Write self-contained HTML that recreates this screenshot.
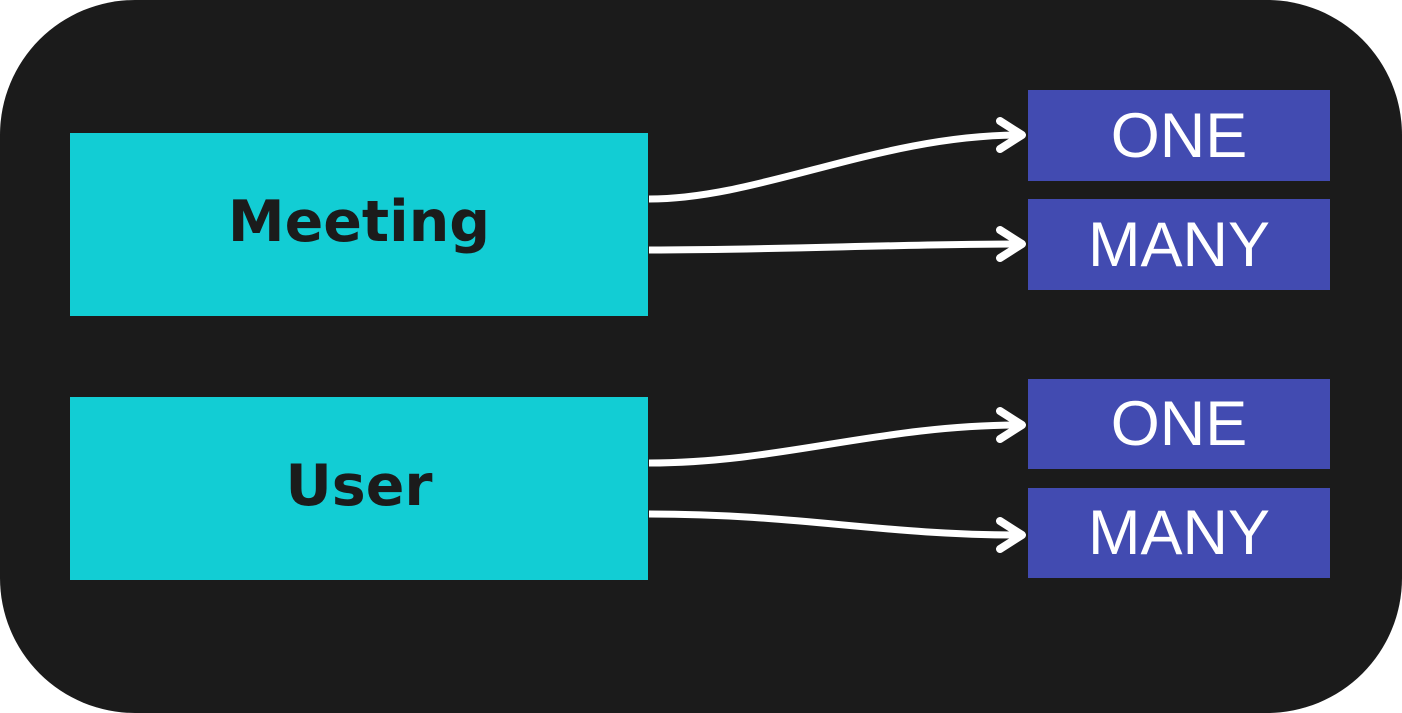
<!DOCTYPE html>
<html><head><style>
html,body{margin:0;padding:0;background:#fff;width:1402px;height:713px;overflow:hidden}
.bg{position:absolute;left:0;top:0;width:1402px;height:713px;background:#1b1b1b;border-radius:135px}
.t{position:absolute;background:#12cdd4;color:#1b1b1b;font:bold 57px "DejaVu Sans","Liberation Sans",sans-serif;display:flex;align-items:center;justify-content:center;padding-bottom:6px;box-sizing:border-box}
.p{position:absolute;background:#424bb1;color:#fff;font:63px "Liberation Sans",sans-serif;display:flex;align-items:center;justify-content:center}
svg{position:absolute;left:0;top:0}
</style></head><body>
<div class="bg"></div>
<div class="t" style="left:70px;top:133px;width:578px;height:183px">Meeting</div>
<div class="t" style="left:70px;top:397px;width:578px;height:183px">User</div>
<div class="p" style="left:1028px;top:90px;width:302px;height:91px">ONE</div>
<div class="p" style="left:1028px;top:199px;width:302px;height:91px">MANY</div>
<div class="p" style="left:1028px;top:379px;width:302px;height:90px">ONE</div>
<div class="p" style="left:1028px;top:488px;width:302px;height:90px">MANY</div>
<svg width="1402" height="713" fill="none" stroke="#fff" stroke-width="7" stroke-linecap="round" stroke-linejoin="round">
<path d="M649 199 C760 199 880 135 1020 135" stroke-linecap="butt"/>
<path d="M1000 121 L1022 135 L1000 149" stroke-width="8"/>
<path d="M649 250 C780 250 900 244 1020 244" stroke-linecap="butt"/>
<path d="M1000 230 L1022 244 L1000 258" stroke-width="8"/>
<path d="M649 463 C780 463 880 425 1020 425" stroke-linecap="butt"/>
<path d="M1000 411 L1022 425 L1000 439" stroke-width="8"/>
<path d="M649 514 C800 514 880 535 1020 535" stroke-linecap="butt"/>
<path d="M1000 521 L1022 535 L1000 549" stroke-width="8"/>
</svg>
</body></html>
